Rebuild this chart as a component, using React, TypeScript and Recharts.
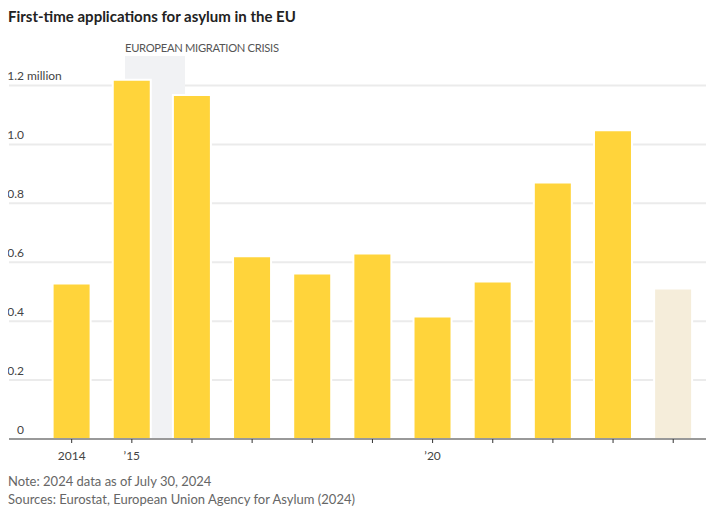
import React from 'react';
import { BarChart, Bar, XAxis, YAxis, CartesianGrid, ReferenceArea, Cell } from 'recharts';

// first-time asylum applications in the EU, millions
const years = [2014, 2015, 2016, 2017, 2018, 2019, 2020, 2021, 2022, 2023, 2024];
const applications = [0.528, 1.219, 1.168, 0.62, 0.562, 0.63, 0.416, 0.535, 0.871, 1.048, 0.511];
const partialYear = 2024;

const yTicks = [0, 0.2, 0.4, 0.6, 0.8, 1.0, 1.2];
const xTickLabels: Record<number, string> = { 2014: '2014', 2015: '\u201915', 2020: '\u201920' };

const crisisStart = 2014.886;
const crisisEnd = 2015.884;

const data = years.map((year, i) => ({ year, value: applications[i] }));

const FONT = 'Lato, "Noto Sans", sans-serif';
const YELLOW = '#FFD43B';
const BEIGE = '#F5EDDA';

const YTick = (props: any) => {
  const { y, payload } = props;
  const v = payload.value as number;
  const label = v === 0 ? '0' : v.toFixed(1);
  return (
    <g>
      <text x={16} y={y - 5} textAnchor="end" fontSize={12} fill="#444" fontFamily={FONT}>
        {label}
      </text>
      {v === 1.2 && (
        <text x={19} y={y - 5} textAnchor="start" fontSize={12} fill="#444" fontFamily={FONT}>
          million
        </text>
      )}
    </g>
  );
};

const CrisisLabel = (props: any) => {
  const { viewBox } = props;
  return (
    <text x={viewBox.x} y={viewBox.y - 4} fontSize={11.2} fill="#555" fontFamily={FONT} letterSpacing={-0.3}>
      EUROPEAN MIGRATION CRISIS
    </text>
  );
};

export default function App() {
  return (
    <div style={{ width: 700, fontFamily: FONT }}>
      <div style={{ height: 32, fontSize: 15, fontWeight: 700, color: '#222', lineHeight: '17px' }}>
        First-time applications for asylum in the EU
      </div>
      <BarChart width={701} height={429} data={data} margin={{ top: 16, right: 0, bottom: 0, left: 0 }}>
        <ReferenceArea
          x1={crisisStart}
          x2={crisisEnd}
          y1={0}
          y2={1.3}
          fill="#F1F2F4"
          fillOpacity={1}
          stroke="none"
          ifOverflow="visible"
          label={<CrisisLabel />}
        />
        <CartesianGrid vertical={false} horizontalValues={yTicks} stroke="#EBEBEB" strokeWidth={2} />
        <XAxis
          dataKey="year"
          type="number"
          domain={[2012.958, 2024.595]}
          allowDataOverflow
          ticks={years}
          tickFormatter={(v: number) => xTickLabels[v] ?? ''}
          axisLine={{ stroke: '#999', strokeWidth: 2 }}
          tickLine={{ stroke: '#333' }}
          tickSize={4}
          tickMargin={8}
          tick={{ fontSize: 12, fill: '#444', fontFamily: FONT }}
          height={30}
        />
        <YAxis
          domain={[0, 1.3]}
          ticks={yTicks}
          allowDataOverflow
          width={1}
          axisLine={false}
          tickLine={false}
          tick={<YTick />}
        />
        <Bar dataKey="value" barSize={38} stroke="#fff" strokeWidth={2} isAnimationActive={false}>
          {data.map((d) => (
            <Cell key={d.year} fill={d.year === partialYear ? BEIGE : YELLOW} />
          ))}
        </Bar>
      </BarChart>
      <div style={{ fontSize: 13, color: '#666', lineHeight: '18px', marginTop: 3 }}>
        <div>Note: 2024 data as of July 30, 2024</div>
        <div>Sources: Eurostat, European Union Agency for Asylum (2024)</div>
      </div>
    </div>
  );
}
